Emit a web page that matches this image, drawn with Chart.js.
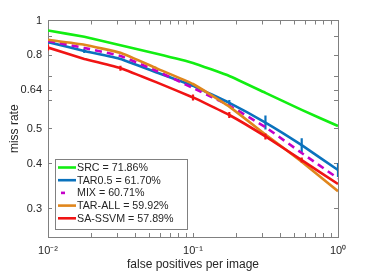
<!DOCTYPE html>
<html>
<head>
<meta charset="utf-8">
<script src="https://cdn.jsdelivr.net/npm/chart.js@4.4.1/dist/chart.umd.min.js"></script>
<style>
  html, body { margin: 0; padding: 0; background: #fff; }
  #wrap { position: relative; width: 374px; height: 273px; }
</style>
</head>
<body>
<div id="wrap"><canvas id="roc"></canvas></div>
<script>
// false positives per image (log-average reference points)
const fppi = [0.01, 0.0178, 0.0316, 0.0562, 0.1, 0.178, 0.316, 0.562, 1];

// miss rate per method
const srcRate    = [0.938, 0.901, 0.853, 0.808, 0.762, 0.701, 0.629, 0.564, 0.509];
const tar05Rate  = [0.871, 0.823, 0.782, 0.717, 0.658, 0.590, 0.520, 0.450, 0.384];
const mixRate    = [0.878, 0.839, 0.797, 0.724, 0.649, 0.580, 0.505, 0.428, 0.364];
const tarAllRate = [0.884, 0.856, 0.813, 0.736, 0.666, 0.576, 0.482, 0.405, 0.335];
const ssvmRate   = [0.841, 0.782, 0.737, 0.673, 0.611, 0.546, 0.476, 0.409, 0.351];

// half-length of the vertical error ticks
const tar05Err = [2, 2, 0, 0, 0, 3, 7, 7, 7];
const ssvmErr  = [3, 0, 2.5, 0, 3, 3, 3, 2.5, 0];

const legendLabels = ['SRC = 71.86%', 'TAR0.5 = 61.70%', 'MIX = 60.71%', 'TAR-ALL = 59.92%', 'SA-SSVM = 57.89%'];

// axis ticks
const xLabelTicks = [0.01, 0.1, 1];
const xTickLabels = ['10\u207B\u00B2', '10\u207B\u00B9', '10\u2070'];
const yTicks = [0.3, 0.4, 0.5, 0.6, 0.64, 0.7, 0.8, 0.9, 1];
const yLabelTicks = [0.3, 0.4, 0.5, 0.64, 0.8, 1];

const xTicks = [];
[0.01, 0.1].forEach(d => { for (let k = 1; k < 10; k++) xTicks.push(+(k * d).toFixed(3)); });
xTicks.push(1);

const FONT = 'Liberation Sans, Arial, Helvetica, sans-serif';
const TEXT = '#262626';
const AXIS = '#808080';

function pts(ys) { return fppi.map((x, i) => ({ x: x, y: ys[i] })); }

function series(label, ys, color, order, extra) {
  return Object.assign({
    label: label,
    data: pts(ys),
    borderColor: color,
    backgroundColor: color,
    borderWidth: 2.6,
    pointRadius: 0,
    pointStyle: 'line',
    pointRotation: 90,
    pointBorderWidth: 2.2,
    pointBorderColor: color,
    tension: 0.1,
    fill: false,
    order: order
  }, extra || {});
}

const datasets = [
  series(legendLabels[0], srcRate, '#12ee12', 5),
  series(legendLabels[1], tar05Rate, '#0a72bd', 4, { pointRadius: tar05Err }),
  series(legendLabels[2], mixRate, '#c400c8', 3, { borderDash: [7, 5] }),
  series(legendLabels[3], tarAllRate, '#e0861c', 2),
  series(legendLabels[4], ssvmRate, '#f01414', 1, { pointRadius: ssvmErr })
];

// legend box inside the plot, bottom-left
const boxLegend = {
  id: 'boxLegend',
  afterDatasetsDraw(chart) {
    const ctx = chart.ctx;
    const a = chart.chartArea;
    const left = a.left + 7, top = a.bottom - 78, w = 132, h = 70;
    ctx.save();
    ctx.fillStyle = '#fff';
    ctx.fillRect(left, top, w, h);
    ctx.strokeStyle = AXIS;
    ctx.lineWidth = 1;
    ctx.strokeRect(left + 0.5, top + 0.5, w, h);
    ctx.font = '10.7px ' + FONT;
    ctx.textBaseline = 'middle';
    datasets.forEach((ds, i) => {
      const y = top + 8.5 + i * 12.7;
      ctx.strokeStyle = ds.borderColor;
      ctx.lineWidth = 2.6;
      if (ds.borderDash) {
        ctx.setLineDash([4, 30]);
        ctx.lineDashOffset = -3;
      } else {
        ctx.setLineDash([]);
      }
      ctx.beginPath();
      ctx.moveTo(left + 3, y);
      ctx.lineTo(left + 21, y);
      ctx.stroke();
      ctx.setLineDash([]);
      ctx.fillStyle = TEXT;
      ctx.fillText(legendLabels[i], left + 22, y + 0.5);
    });
    ctx.restore();
  }
};

function logAxis(min, max, ticks, position, labelFn, size, extra) {
  const horiz = position === 'top' || position === 'bottom';
  return Object.assign({
    type: 'logarithmic',
    position: position,
    min: min,
    max: max,
    afterBuildTicks: s => { s.ticks = ticks.map(v => ({ value: v })); },
    afterFit: s => { if (horiz) s.height = size; else s.width = size; },
    border: { display: true, color: AXIS, width: 1 },
    grid: { drawOnChartArea: false, drawTicks: true, tickLength: -4, color: AXIS, tickColor: AXIS, lineWidth: 1 },
    ticks: {
      autoSkip: false,
      maxRotation: 0,
      color: TEXT,
      font: { family: FONT, size: 11 },
      callback: labelFn
    }
  }, extra || {});
}

const xLabel = v => { const i = xLabelTicks.indexOf(+(+v).toFixed(3)); return i >= 0 ? xTickLabels[i] : ''; };
const yLabel = v => (yLabelTicks.indexOf(+v) >= 0 ? String(v) : '');
const blank = () => '';

const x = logAxis(0.01, 1, xTicks, 'bottom', xLabel, 36, {
  title: { display: true, text: 'false positives per image', color: TEXT, font: { family: FONT, size: 12 }, padding: { top: 1, bottom: 1 } }
});
x.ticks.padding = 11;

const y = logAxis(0.25, 1, yTicks, 'left', yLabel, 48, {
  title: { display: true, text: 'miss rate', color: TEXT, font: { family: FONT, size: 12 }, padding: { top: 7, bottom: 1 } }
});
y.ticks.padding = 10;

const x2 = logAxis(0.01, 1, xTicks, 'top', blank, 20.5);
x2.ticks.font = { size: 1 };
x2.ticks.padding = 5;

const y2 = logAxis(0.25, 1, yTicks, 'right', blank, 36);
y2.ticks.font = { size: 1 };
y2.ticks.padding = 6;

new Chart(document.getElementById('roc'), {
  type: 'line',
  data: { datasets: datasets },
  options: {
    responsive: true,
    maintainAspectRatio: false,
    animation: false,
    layout: { padding: 0 },
    scales: { x: x, y: y, x2: x2, y2: y2 },
    plugins: {
      legend: { display: false },
      tooltip: { enabled: false }
    }
  },
  plugins: [boxLegend]
});
</script>
</body>
</html>
